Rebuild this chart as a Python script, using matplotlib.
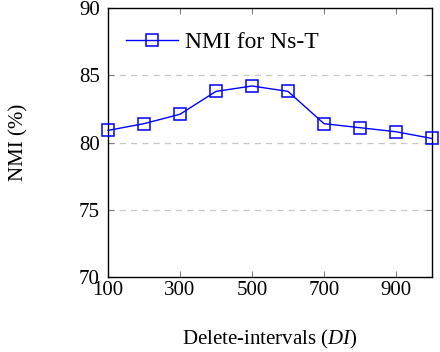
import matplotlib
matplotlib.use("Agg")
import matplotlib.pyplot as plt

# values
delete_intervals = [100, 200, 300, 400, 500, 600, 700, 800, 900, 1000]
nmi_ns_t = [80.9, 81.4, 82.1, 83.8, 84.2, 83.8, 81.4, 81.1, 80.8, 80.3]
x_ticks = [100, 300, 500, 700, 900]
y_ticks = [70, 75, 80, 85, 90]

plt.rcParams['font.family'] = ['Liberation Serif', 'DejaVu Serif']
plt.rcParams['mathtext.fontset'] = 'custom'
plt.rcParams['mathtext.it'] = 'Liberation Serif:italic'
plt.rcParams['mathtext.rm'] = 'Liberation Serif'

fig = plt.figure(figsize=(4.4, 3.52), dpi=100)
ax = fig.add_axes([108 / 440, 1 - 277 / 352, 324 / 440, 269 / 352])

# dashed grid at inner y ticks
for y in [75, 80, 85]:
    ax.axhline(y, color='#c8c8c8', linestyle=(0, (5, 4)), linewidth=0.9, zorder=1)

ax.plot(delete_intervals, nmi_ns_t, color='#0000ff', linewidth=1.0,
        marker='s', markersize=9, markerfacecolor='none',
        markeredgewidth=1.1, label='NMI for Ns-T', zorder=3, clip_on=False)

ax.set_xlim(100, 1000)
ax.set_ylim(70, 90)
ax.set_xticks(x_ticks)
ax.set_yticks(y_ticks)
ax.tick_params(direction='in', top=True, right=True, length=4,
               color='#808080', labelsize=15)
ax.tick_params(axis='y', pad=6)
ax.tick_params(axis='x', pad=3)
for s in ax.spines.values():
    s.set_linewidth(1.0)

ax.set_xlabel(r'Delete-intervals ($\mathit{DI}$)', fontsize=15, labelpad=20)
ax.set_ylabel('NMI (%)', fontsize=15, labelpad=36)

ax.legend(loc='upper left', bbox_to_anchor=(0.005, 0.975), frameon=False, fontsize=17,
          handlelength=2.2, handletextpad=0.3, borderaxespad=0.3)

fig.savefig('out.png', dpi=100)
